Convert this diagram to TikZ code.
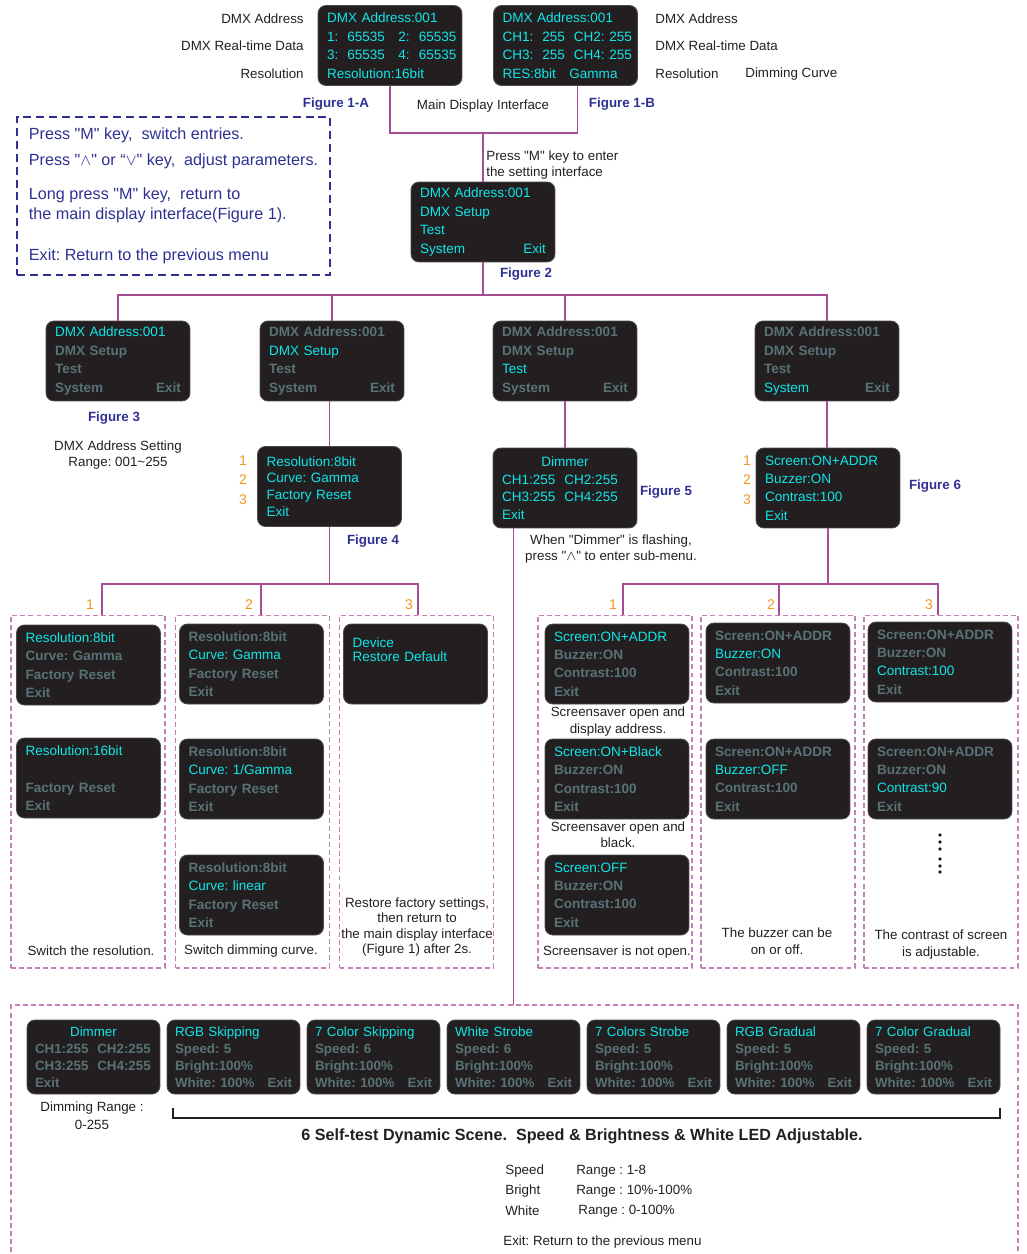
\documentclass[tikz,border=0pt]{standalone}
\usepackage{fontspec}
\setmainfont{Liberation Sans}[Ligatures=TeXOff]
\usepackage{xcolor}
\usepackage{tikz}
\usetikzlibrary{calc}
\definecolor{lcdbg}{HTML}{231F20}
\definecolor{lcdedge}{HTML}{4A4A4C}
\definecolor{lcdon}{HTML}{10E6E8}
\definecolor{lcdoff}{HTML}{587275}
\definecolor{wirec}{HTML}{A64D94}
\definecolor{groupc}{HTML}{C77FB8}
\definecolor{navy}{HTML}{2E3192}
\definecolor{numc}{HTML}{F7941D}
\definecolor{ink}{HTML}{231F20}
\frenchspacing
\newcommand{\lit}[1]{\textcolor{lcdon}{#1}}
\newcommand{\unlit}[1]{\textcolor{lcdoff}{\bfseries #1}}
\newcommand{\centred}[1]{\makebox[\linewidth][c]{#1}}
\newcommand{\lcdfont}{\fontsize{7.7}{10.5}\selectfont\hyphenpenalty=10000}
\newcommand{\scenefont}{\fontsize{7.6}{9.6}\selectfont\hyphenpenalty=10000}
\newcommand{\notefont}{\fontsize{7.6}{9.2}\selectfont}
\tikzset{
  screen/.style={rounded corners=0.16cm, fill=lcdbg, draw=lcdedge, line width=0.5pt,
    minimum width=2.88cm, minimum height=1.6cm, inner xsep=0.18cm, inner ysep=0pt,
    text width=2.52cm, align=left, font=\lcdfont},
  scene/.style={screen, minimum width=2.66cm, minimum height=1.48cm,
    inner xsep=0.16cm, text width=2.34cm, font=\scenefont},
  wire/.style={draw=wirec, line width=0.95pt},
  group/.style={draw=groupc, line width=0.6pt, dash pattern=on 2.8pt off 1.8pt,
    minimum width=3.08cm, minimum height=7.06cm},
  note/.style={text=ink, font=\notefont, align=center, inner sep=0pt},
  fig/.style={text=navy, font=\bfseries\fontsize{7.6}{9}\selectfont, inner sep=0pt},
  num/.style={text=numc, font=\fontsize{8}{10}\selectfont, inner sep=0pt},
  brk/.style={draw=ink, line width=0.6pt},
}
\begin{document}
\begin{tikzpicture}[x=0.02cm, y=-0.02cm]
  \useasboundingbox (0,0) rectangle (1027,1254);

  % main display
  \node[screen] (fA) at (390,45.5) {\lit{DMX Address:001}\\\lit{1:~~65535~~~2:~~65535}\\\lit{3:~~65535~~~4:~~65535}\\\lit{Resolution:16bit}};
  \node[screen] (fB) at (565.5,45.5) {\lit{DMX Address:001}\\\lit{CH1:~~255~~CH2:~255}\\\lit{CH3:~~255~~CH4:~255}\\\lit{RES:8bit~~~Gamma}};
  \node[note, anchor=east] (la1) at (304,19) {DMX Address};
  \node[note, anchor=east] (la2) at (304,46) {DMX Real-time Data};
  \node[note, anchor=east] (la3) at (304,74) {Resolution};
  \node[note, anchor=west] (lb1) at (655,19) {DMX Address};
  \node[note, anchor=west] (lb2) at (655,46) {DMX Real-time Data};
  \node[note, anchor=west] (lb3) at (655,74) {Resolution};
  \node[note, anchor=west] (lb4) at (745,74) {Dimming Curve};
  \node[fig] (capA) at (336,104) {Figure 1-A};
  \node[fig] (capB) at (622,104) {Figure 1-B};
  \node[note] (maindisp) at (483,106) {Main Display Interface};

  \node[draw=navy, line width=0.7pt, dash pattern=on 4.5pt off 2.8pt, minimum width=6.26cm,
    minimum height=3.16cm, align=left, text=navy,
    font=\fontsize{9.2}{11.3}\selectfont] (keys) at (173.5,196)
    {Press "M" key,~ switch entries.\\[3.4pt]
     Press "$\wedge$" or “$\vee$" key,~ adjust parameters.\\[8pt]
     Long press "M" key,~ return to\\
     the main display interface(Figure 1).\\[12.5pt]
     Exit: Return to the previous menu};

  % setting interface
  \node[screen] (f2) at (483,222) {\lit{DMX Address:001}\\\lit{DMX Setup}\\\lit{Test}\\\lit{System}\hfill\lit{Exit}};
  \node[note, anchor=west, align=left] (pressM) at (486,165) {Press "M" key to enter\\the setting interface};
  \node[fig] (cap2) at (526,274) {Figure 2};

  \node[screen] (f3) at (118,361) {\lit{DMX Address:001}\\\unlit{DMX Setup}\\\unlit{Test}\\\unlit{System}\hfill\unlit{Exit}};
  \node[screen] (f4a) at (332,361) {\unlit{DMX Address:001}\\\lit{DMX Setup}\\\unlit{Test}\\\unlit{System}\hfill\unlit{Exit}};
  \node[screen] (f5a) at (565,361) {\unlit{DMX Address:001}\\\unlit{DMX Setup}\\\lit{Test}\\\unlit{System}\hfill\unlit{Exit}};
  \node[screen] (f6a) at (827,361) {\unlit{DMX Address:001}\\\unlit{DMX Setup}\\\unlit{Test}\\\lit{System}\hfill\unlit{Exit}};
  \node[fig] (cap3) at (114,418) {Figure 3};
  \node[note] (addrset) at (118,455) {DMX Address Setting\\Range: 001\textasciitilde255};

  % DMX setup
  \node[screen, font=\fontsize{7.7}{9.6}\selectfont] (f4) at (329.5,486.5) {\lit{Resolution:8bit}\\\lit{Curve: Gamma}\\\lit{Factory Reset}\\\lit{Exit}};
  \node[num] (n41) at (243,461) {1};
  \node[num] (n42) at (243,480) {2};
  \node[num] (n43) at (243,500) {3};
  \node[fig] (cap4) at (373,541) {Figure 4};

  % test
  \node[screen, font=\fontsize{7.7}{10}\selectfont] (f5) at (565,488) {\centred{\lit{Dimmer}}\\\lit{CH1:255~~CH2:255}\\\lit{CH3:255~~CH4:255}\\\lit{Exit}};
  \node[fig] (cap5) at (666,492) {Figure 5};
  \node[note] (flash) at (611,549) {When "Dimmer" is flashing,\\press "$\wedge$" to enter sub-menu.};

  % system
  \node[screen] (f6) at (828,488) {\lit{Screen:ON+ADDR}\\\lit{Buzzer:ON}\\\lit{Contrast:100}\\\lit{Exit}};
  \node[num] (n61) at (747,461) {1};
  \node[num] (n62) at (747,480) {2};
  \node[num] (n63) at (747,500) {3};
  \node[fig] (cap6) at (935,486) {Figure 6};

  % resolution / curve / reset
  \node[group] (g1) at (88,791.5) {};
  \node[group] (g2) at (252.5,791.5) {};
  \node[group] (g3) at (416.5,791.5) {};
  \node[screen] (r1a) at (88.5,665) {\lit{Resolution:8bit}\\\unlit{Curve: Gamma}\\\unlit{Factory Reset}\\\unlit{Exit}};
  \node[screen] (r1b) at (88.5,778) {\lit{Resolution:16bit}\\\mbox{}\\\unlit{Factory Reset}\\\unlit{Exit}};
  \node[screen] (c1) at (251.5,664) {\unlit{Resolution:8bit}\\\lit{Curve: Gamma}\\\unlit{Factory Reset}\\\unlit{Exit}};
  \node[screen] (c2) at (251.5,779) {\unlit{Resolution:8bit}\\\lit{Curve: 1/Gamma}\\\unlit{Factory Reset}\\\unlit{Exit}};
  \node[screen] (c3) at (251.5,895) {\unlit{Resolution:8bit}\\\lit{Curve: linear}\\\unlit{Factory Reset}\\\unlit{Exit}};
  \node[screen, font=\fontsize{7.7}{8.2}\selectfont] (d1) at (415.5,664) {\lit{Device}\\\lit{Restore Default}\\\mbox{}\\\mbox{}};
  \node[note] (t1cap) at (91,951) {Switch the resolution.};
  \node[note] (t2cap) at (251,951) {Switch dimming curve.};
  \node[note, font=\fontsize{7.6}{8.6}\selectfont] (t3cap) at (417,927) {Restore factory settings,\\then return to\\the main display interface\\(Figure 1) after 2s.};

  % screen / buzzer / contrast
  \node[group] (h1) at (615,791.5) {};
  \node[group] (h2) at (778,791.5) {};
  \node[group] (h3) at (941,791.5) {};
  \node[screen] (s1a) at (617,664) {\lit{Screen:ON+ADDR}\\\unlit{Buzzer:ON}\\\unlit{Contrast:100}\\\unlit{Exit}};
  \node[screen] (s1b) at (617,779) {\lit{Screen:ON+Black}\\\unlit{Buzzer:ON}\\\unlit{Contrast:100}\\\unlit{Exit}};
  \node[screen] (s1c) at (617,895) {\lit{Screen:OFF}\\\unlit{Buzzer:ON}\\\unlit{Contrast:100}\\\unlit{Exit}};
  \node[screen] (s2a) at (778,663) {\unlit{Screen:ON+ADDR}\\\lit{Buzzer:ON}\\\unlit{Contrast:100}\\\unlit{Exit}};
  \node[screen] (s2b) at (778,779) {\unlit{Screen:ON+ADDR}\\\lit{Buzzer:OFF}\\\unlit{Contrast:100}\\\unlit{Exit}};
  \node[screen] (s3a) at (940,662) {\unlit{Screen:ON+ADDR}\\\unlit{Buzzer:ON}\\\lit{Contrast:100}\\\unlit{Exit}};
  \node[screen] (s3b) at (940,779) {\unlit{Screen:ON+ADDR}\\\unlit{Buzzer:ON}\\\lit{Contrast:90}\\\unlit{Exit}};
  \node[note] (u1cap) at (618,721.5) {Screensaver open and\\display address.};
  \node[note] (u2cap) at (618,834.5) {Screensaver open and\\black.};
  \node[note] (u3cap) at (617,952) {Screensaver is not open.};
  \node[note, font=\fontsize{7.6}{9.6}\selectfont] (v2cap) at (777,941.5) {The buzzer can be\\on or off.};
  \node[note] (w2cap) at (941,944.5) {The contrast of screen\\is adjustable.};
  \foreach \dy in {835,842,849,859,866,872}
    \fill[ink] (940,\dy) circle (1.1pt);

  % self-test scenes
  \draw[groupc, line width=0.6pt, dash pattern=on 2.8pt off 1.8pt]
    (11,1260) -- (11,1005) -- (1018,1005) -- (1018,1260);
  \coordinate (gB) at (514.5,1005);
  \node[scene] (t0) at (93.5,1057) {\centred{\lit{Dimmer}}\\\unlit{CH1:255~~CH2:255}\\\unlit{CH3:255~~CH4:255}\\\unlit{Exit}};
  \node[scene] (t1) at (233.5,1057) {\lit{RGB Skipping}\\\unlit{Speed: 5}\\\unlit{Bright:100\%}\\\unlit{White: 100\%}\hfill\unlit{Exit}};
  \node[scene] (t2) at (373.5,1057) {\lit{7 Color Skipping}\\\unlit{Speed: 6}\\\unlit{Bright:100\%}\\\unlit{White: 100\%}\hfill\unlit{Exit}};
  \node[scene] (t3) at (513.5,1057) {\lit{White Strobe}\\\unlit{Speed: 6}\\\unlit{Bright:100\%}\\\unlit{White: 100\%}\hfill\unlit{Exit}};
  \node[scene] (t4) at (653.5,1057) {\lit{7 Colors Strobe}\\\unlit{Speed: 5}\\\unlit{Bright:100\%}\\\unlit{White: 100\%}\hfill\unlit{Exit}};
  \node[scene] (t5) at (793.5,1057) {\lit{RGB Gradual}\\\unlit{Speed: 5}\\\unlit{Bright:100\%}\\\unlit{White: 100\%}\hfill\unlit{Exit}};
  \node[scene] (t6) at (933.5,1057) {\lit{7 Color Gradual}\\\unlit{Speed: 5}\\\unlit{Bright:100\%}\\\unlit{White: 100\%}\hfill\unlit{Exit}};
  \node[note, font=\fontsize{7.6}{10.2}\selectfont] (dimrange) at (92,1116) {Dimming Range :\\0-255};
  \draw[brk] (173,1108) |- (1000,1118) -- (1000,1108);
  \node[note, font=\bfseries\fontsize{9.2}{10}\selectfont] (scenes) at (582,1136) {6 Self-test Dynamic Scene.~ Speed \& Brightness \& White LED Adjustable.};
  \node[note, anchor=west] (k1) at (505,1171) {Speed};
  \node[note, anchor=west] (k2) at (505,1191) {Bright};
  \node[note, anchor=west] (k3) at (505,1211) {White};
  \node[note, anchor=west] (r1) at (576,1171) {Range : 1-8};
  \node[note, anchor=west] (r2) at (576,1191) {Range : 10\%-100\%};
  \node[note, anchor=west] (r3) at (578,1211) {Range : 0-100\%};
  \node[note, anchor=west] (exitnote) at (503,1242) {Exit: Return to the previous menu};

  % connectors
  \coordinate (mainbus) at (480,133);
  \draw[wire] (fA.south) |- (mainbus);
  \draw[wire] ($(fB.south)+(12,0)$) |- (mainbus);
  \draw[wire] (f2.north |- mainbus) -- (f2.north);
  \coordinate (setbus) at (480,295);
  \draw[wire] (f2.south) -- (f2.south |- setbus);
  \draw[wire] (f3.north) |- (setbus) -| (f6a.north);
  \draw[wire] (f4a.north) -- (f4a.north |- setbus);
  \draw[wire] (f5a.north) -- (f5a.north |- setbus);
  \draw[wire] (f4.north |- f4a.south) -- (f4.north);
  \draw[wire] (f5a.south) -- (f5a.south |- f5.north);
  \draw[wire] (f6a.south) -- (f6a.south |- f6.north);

  \coordinate (res1) at (102,584);
  \coordinate (res2) at (261,584);
  \coordinate (res3) at (418,584);
  \draw[wire] (f4.south) -- (f4.south |- res1);
  \draw[wire] (g1.north -| res1) |- (res3) -- (g3.north -| res3);
  \draw[wire] (res2) -- (g2.north -| res2);
  \node[num] (m1) at (90,605) {1};
  \node[num] (m2) at (249,605) {2};
  \node[num] (m3) at (409,605) {3};

  \coordinate (f5tap) at ($(f5.south west)+(21,0)$);
  \draw[wire] (f5tap) -- (f5tap |- gB);

  \coordinate (sys1) at (623,584);
  \coordinate (sys2) at (779,584);
  \coordinate (sys3) at (938,584);
  \draw[wire] (f6.south) -- (f6.south |- sys1);
  \draw[wire] (h1.north -| sys1) |- (sys3) -- (h3.north -| sys3);
  \draw[wire] (sys2) -- (h2.north -| sys2);
  \node[num] (o1) at (613,605) {1};
  \node[num] (o2) at (771,605) {2};
  \node[num] (o3) at (929,605) {3};
\end{tikzpicture}
\end{document}
